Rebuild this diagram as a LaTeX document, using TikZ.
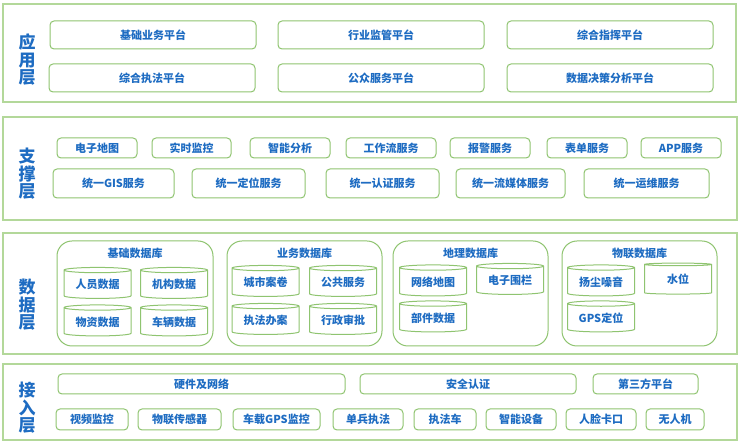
\documentclass[tikz,border=0pt]{standalone}
\usepackage{fontspec}
\setmainfont{Noto Sans CJK SC}
\usetikzlibrary{shapes.geometric}
\definecolor{boxgreen}{HTML}{8FC470}
\definecolor{laygreen}{HTML}{B3D89A}
\definecolor{txtblue}{HTML}{1E6CC2}
\tikzset{
  layer/.style={draw=laygreen, line width=1.6pt, fill=white},
  lab/.style={text=txtblue, font=\bfseries\fontsize{17}{17.5}\selectfont, align=center, inner sep=0pt},
  box/.style={draw=boxgreen, line width=1pt, rounded corners=4pt, fill=white, text=txtblue,
    font=\bfseries\fontsize{11}{12}\selectfont, inner sep=0pt},
  grp/.style={draw=boxgreen, line width=1pt, rounded corners=15pt, fill=white},
  gtitle/.style={text=txtblue, font=\bfseries\fontsize{11}{12}\selectfont, inner sep=0pt},
  cyl/.style={cylinder, shape border rotate=90, aspect=0.12, draw=boxgreen, line width=1pt,
    fill=white, minimum width=67pt, minimum height=31pt, text=txtblue,
    font=\bfseries\fontsize{11}{12}\selectfont, inner sep=0pt},
}
\newcommand\bx[6]{\node[box, minimum width=#4pt, minimum height=#5pt] (#1) at (#2,#3) {#6};}
\newcommand\db[4]{\node[cyl] (#1) at (#2,#3) {#4};}
\begin{document}
\begin{tikzpicture}[x=1pt,y=-1pt]
\useasboundingbox (0,0) rectangle (740,443);
\fill[white] (0,0) rectangle (740,443);
% ---------- 应用层
\draw[layer] (3,4) rectangle (736,102);
\node[lab] (l1) at (27,60) {应\\用\\层};
\bx{a1}{153}{35}{206}{28}{基础业务平台}
\bx{a2}{381}{35}{206}{28}{行业监管平台}
\bx{a3}{610}{35}{206}{28}{综合指挥平台}
\bx{a4}{152}{78}{206}{28}{综合执法平台}
\bx{a5}{381}{78}{206}{28}{公众服务平台}
\bx{a6}{610}{78}{206}{28}{数据决策分析平台}
% ---------- 支撑层
\draw[layer] (3,117) rectangle (737,220);
\node[lab] (l2) at (27,174) {支\\撑\\层};
\bx{s1}{97}{148}{80}{20}{电子地图}
\bx{s2}{191.5}{148}{79}{20}{实时监控}
\bx{s3}{290}{148}{80}{20}{智能分析}
\bx{s4}{391}{148}{90}{20}{工作流服务}
\bx{s5}{490}{148}{80}{20}{报警服务}
\bx{s6}{587}{148}{80}{20}{表单服务}
\bx{s7}{681}{148}{80}{20}{APP服务}
\bx{s8}{113.5}{183.5}{121}{29}{统一GIS服务}
\bx{s9}{248.5}{183.5}{113}{29}{统一定位服务}
\bx{s10}{382.5}{183.5}{113}{29}{统一认证服务}
\bx{s11}{510.5}{183.5}{109}{29}{统一流媒体服务}
\bx{s12}{646.5}{183.5}{125}{29}{统一运维服务}
% ---------- 数据层
\draw[layer] (3,233) rectangle (737,354);
\node[lab] (l3) at (27,305) {数\\据\\层};
\draw[grp] (57,241) rectangle (213,346);
\draw[grp] (227,241) rectangle (382,346);
\draw[grp] (393,241) rectangle (548,346);
\draw[grp] (562,241) rectangle (717,346);
\node[gtitle] (g1) at (135,253) {基础数据库};
\node[gtitle] (g2) at (304.5,253) {业务数据库};
\node[gtitle] (g3) at (470.5,253) {地理数据库};
\node[gtitle] (g4) at (639.5,253) {物联数据库};
\db{d1}{97.5}{284.5}{人员数据}
\db{d2}{174}{284.5}{机构数据}
\db{d3}{97.5}{322}{物资数据}
\db{d4}{174}{322}{车辆数据}
\db{d5}{265.5}{282.5}{城市案卷}
\db{d6}{343}{282.5}{公共服务}
\db{d7}{265.5}{320.5}{执法办案}
\db{d8}{343}{320.5}{行政审批}
\db{d9}{433}{282}{网络地图}
\db{d10}{510}{280.5}{电子围栏}
\db{d11}{433}{318}{部件数据}
\db{d12}{601}{282}{扬尘噪音}
\db{d13}{678}{279.5}{水位}
\db{d14}{601}{318}{GPS定位}
% ---------- 接入层
\draw[layer] (3,364) rectangle (737,440);
\node[lab] (l4) at (27,408) {接\\入\\层};
\bx{c1}{201.5}{384}{287}{20}{硬件及网络}
\bx{c2}{468}{384}{216}{20}{安全认证}
\bx{c3}{645.5}{384}{105}{20}{第三方平台}
\bx{c4}{92}{419.5}{72}{21}{视频监控}
\bx{c5}{179.5}{419.5}{83}{21}{物联传感器}
\bx{c6}{276.5}{419.5}{87}{21}{车载GPS监控}
\bx{c7}{368}{419.5}{70}{21}{单兵执法}
\bx{c8}{445}{419.5}{62}{21}{执法车}
\bx{c9}{521}{419.5}{70}{21}{智能设备}
\bx{c10}{601}{419.5}{70}{21}{人脸卡口}
\bx{c11}{675}{419.5}{58}{21}{无人机}
\end{tikzpicture}
\end{document}
